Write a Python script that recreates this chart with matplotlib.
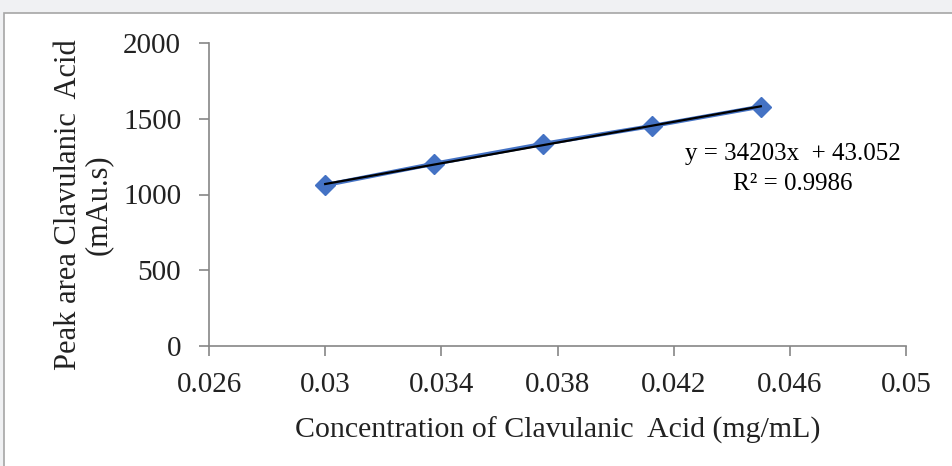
import numpy as np
import matplotlib
matplotlib.use("Agg")
import matplotlib.pyplot as plt
import matplotlib.patches as mpatches

# Data
concentration = [0.03, 0.03375, 0.0375, 0.04125, 0.045]
peak_area = [1062, 1203, 1334, 1452, 1580]
slope = 34203
intercept = 43.052
r_squared = 0.9986

x_ticks = [0.026, 0.03, 0.034, 0.038, 0.042, 0.046, 0.05]
x_tick_labels = ["0.026", "0.03", "0.034", "0.038", "0.042", "0.046", "0.05"]
y_ticks = [0, 500, 1000, 1500, 2000]

plt.rcParams["font.family"] = ["Liberation Serif", "DejaVu Serif"]

fig = plt.figure(figsize=(9.53, 4.66), dpi=100)
fig.patch.set_facecolor("#f0f1f3")

# white panel with grey border, behind the axes
panel = mpatches.Rectangle((4 / 953, -0.1), 1.1, (466 - 13) / 466 + 0.1,
                           transform=fig.transFigure, facecolor="white",
                           edgecolor="#a6a6a6", linewidth=1.2, zorder=-10)
fig.add_artist(panel)

ax = fig.add_axes([209 / 953, 120 / 466, 697 / 953, 303 / 466])
ax.set_facecolor("none")

blue = "#4472c4"
ax.plot(concentration, peak_area, color=blue, linewidth=3, marker="D",
        markersize=10, markerfacecolor=blue, markeredgecolor=blue, zorder=3)

fit_x = np.array([concentration[0], concentration[-1]])
ax.plot(fit_x, slope * fit_x + intercept, color="black", linewidth=1.6, zorder=4)

ax.text(0.0461, 1170, "y = 34203x  + 43.052\nR² = %.4f" % r_squared,
        ha="center", va="center", fontsize=18, linespacing=1.45)

ax.set_xlim(0.026, 0.05)
ax.set_ylim(0, 2000)
ax.set_xticks(x_ticks)
ax.set_xticklabels(x_tick_labels)
ax.set_yticks(y_ticks)

for side in ["top", "right"]:
    ax.spines[side].set_visible(False)
for side in ["left", "bottom"]:
    ax.spines[side].set_color("#868686")
    ax.spines[side].set_linewidth(1.2)

ax.tick_params(axis="both", direction="out", length=7, width=1.2,
               color="#868686", labelsize=21, labelcolor="#222222")
ax.tick_params(axis="x", pad=12)
ax.tick_params(axis="y", pad=13)

ax.set_xlabel("Concentration of Clavulanic  Acid (mg/mL)", fontsize=21.5,
              color="#222222", labelpad=13)
ax.set_ylabel("Peak area Clavulanic  Acid\n(mAu.s)", fontsize=22,
              color="#222222", linespacing=1.05)
ax.yaxis.set_label_coords(-0.138, 0.465)

fig.savefig("out.png", dpi=100)
